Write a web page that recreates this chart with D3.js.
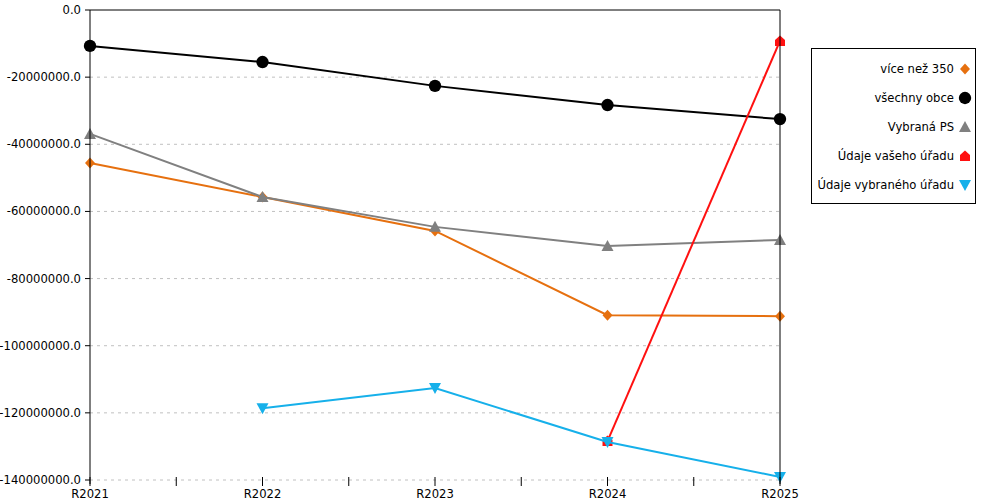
<!DOCTYPE html>
<html>
<head>
<meta charset="utf-8">
<script src="https://cdn.jsdelivr.net/npm/d3@7"></script>
<style>
  body { margin: 0; background: #fff; }
  text { font-family: "DejaVu Sans", Verdana, sans-serif; font-size: 11.6px; fill: #000; }
</style>
</head>
<body>
<div id="chart"></div>
<script>
// categories and series values
var years = ["R2021", "R2022", "R2023", "R2024", "R2025"];
var viceNez350 = [-45600000, -55700000, -65800000, -90900000, -91200000];
var vsechnyObce = [-10700000, -15500000, -22600000, -28300000, -32500000];
var vybranaPS = [-36900000, -55700000, -64600000, -70300000, -68500000];
var udajeVasehoUradu = [null, null, null, -128400000, -9200000];
var udajeVybranehoUradu = [null, -118600000, -112600000, -128700000, -139100000];
var yTicks = [0, -20000000, -40000000, -60000000, -80000000, -100000000, -120000000, -140000000];

var series = [
  {name: "více než 350", values: viceNez350, color: "#e6700f", shape: "diamond"},
  {name: "všechny obce", values: vsechnyObce, color: "#000000", shape: "circle"},
  {name: "Vybraná PS", values: vybranaPS, color: "#808080", shape: "triangle"},
  {name: "Údaje vašeho úřadu", values: udajeVasehoUradu, color: "#ff1010", shape: "house"},
  {name: "Údaje vybraného úřadu", values: udajeVybranehoUradu, color: "#16b0ea", shape: "down"}
];

var width = 1000, height = 500;
var plotLeft = 90, plotRight = 780, plotTop = 10, plotBottom = 480;

var svg = d3.select("#chart")
  .append("svg")
    .attr("width", width)
    .attr("height", height);

var x = d3.scalePoint()
  .domain(years)
  .range([plotLeft, plotRight]);

var y = d3.scaleLinear()
  .domain([-140000000, 0])
  .range([plotBottom, plotTop]);

// dashed grid lines
svg.append("g")
  .selectAll("line")
  .data(yTicks.filter(function(d) { return d !== 0; }))
  .enter()
  .append("line")
    .attr("x1", plotLeft)
    .attr("x2", plotRight)
    .attr("y1", function(d) { return y(d); })
    .attr("y2", function(d) { return y(d); })
    .attr("stroke", "#c0c0c0")
    .attr("stroke-dasharray", "3,4");

// marker shapes
function markerPath(shape) {
  if (shape === "diamond") return "M0,-5.5L5,0L0,5.5L-5,0Z";
  if (shape === "circle") return d3.symbol().type(d3.symbolCircle).size(120)();
  if (shape === "triangle") return "M0,-6L6,5L-6,5Z";
  if (shape === "house") return "M0,-5.5L5,-1L5,5L-5,5L-5,-1Z";
  return "M-6,-5L6,-5L0,6Z";
}

var line = d3.line()
  .defined(function(d) { return d.v !== null; })
  .x(function(d) { return x(d.year); })
  .y(function(d) { return y(d.v); });

series.forEach(function(s) {
  var pts = years.map(function(yr, i) { return {year: yr, v: s.values[i]}; });

  svg.append("path")
    .datum(pts)
    .attr("fill", "none")
    .attr("stroke", s.color)
    .attr("stroke-width", 2)
    .attr("d", line);

  svg.selectAll(null)
    .data(pts.filter(function(d) { return d.v !== null; }))
    .enter()
    .append("path")
      .attr("transform", function(d) { return "translate(" + x(d.year) + "," + y(d.v) + ")"; })
      .attr("d", markerPath(s.shape))
      .attr("fill", s.color);
});

// frame: left axis, top and right border
svg.append("line")
  .attr("x1", plotLeft).attr("x2", plotLeft)
  .attr("y1", plotTop).attr("y2", plotBottom + 4)
  .attr("stroke", "#000");
svg.append("line")
  .attr("x1", plotLeft).attr("x2", plotRight)
  .attr("y1", plotTop).attr("y2", plotTop)
  .attr("stroke", "#000");
svg.append("line")
  .attr("x1", plotRight).attr("x2", plotRight)
  .attr("y1", plotTop).attr("y2", plotBottom + 4)
  .attr("stroke", "#000");

// Y axis ticks and labels
var yAxis = svg.append("g");
yAxis.selectAll("line")
  .data(yTicks)
  .enter()
  .append("line")
    .attr("x1", plotLeft - 5).attr("x2", plotLeft)
    .attr("y1", function(d) { return y(d); })
    .attr("y2", function(d) { return y(d); })
    .attr("stroke", "#000");
yAxis.selectAll("text")
  .data(yTicks)
  .enter()
  .append("text")
    .attr("x", plotLeft - 9)
    .attr("y", function(d) { return y(d); })
    .attr("dy", "0.35em")
    .attr("text-anchor", "end")
    .text(function(d) { return d.toFixed(1); });

// X axis ticks (major at categories, minor between) and labels
var step = x.step();
var xTickPos = [];
years.forEach(function(yr, i) {
  xTickPos.push(x(yr));
  if (i < years.length - 1) xTickPos.push(x(yr) + step / 2);
});
svg.append("g")
  .selectAll("line")
  .data(xTickPos)
  .enter()
  .append("line")
    .attr("x1", function(d) { return d; })
    .attr("x2", function(d) { return d; })
    .attr("y1", plotBottom - 3)
    .attr("y2", plotBottom + 6)
    .attr("stroke", "#000");
svg.append("g")
  .selectAll("text")
  .data(years)
  .enter()
  .append("text")
    .attr("x", function(d) { return x(d); })
    .attr("y", plotBottom + 18)
    .attr("text-anchor", "middle")
    .text(function(d) { return d; });

// legend
var legend = svg.append("g");
legend.append("rect")
  .attr("x", 811.5).attr("y", 48.5)
  .attr("width", 164).attr("height", 155)
  .attr("fill", "#fff")
  .attr("stroke", "#000");
series.forEach(function(s, i) {
  var ly = 69 + i * 29;
  legend.append("text")
    .attr("x", 954)
    .attr("y", ly)
    .attr("dy", "0.35em")
    .attr("text-anchor", "end")
    .text(s.name);
  legend.append("path")
    .attr("transform", "translate(965," + ly + ")")
    .attr("d", markerPath(s.shape))
    .attr("fill", s.color);
});
</script>
</body>
</html>
